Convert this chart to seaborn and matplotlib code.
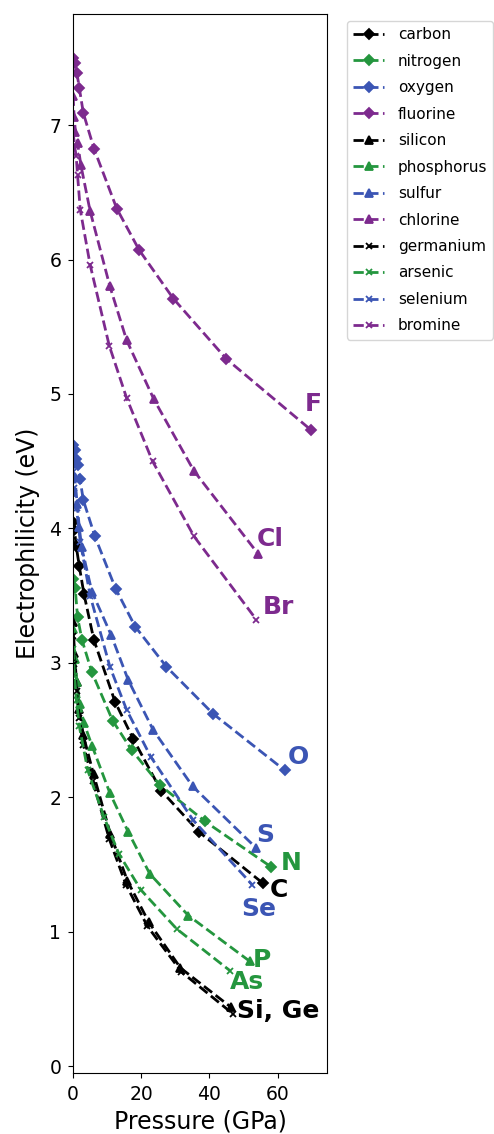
from matplotlib import pyplot as plt
import pandas as pd
import seaborn as sns
import numpy as np


##### Electrophilicity vs pressure
carbon_p = [0, 0.4, 0.9, 1.8, 3.2, 6.1, 12.3, 17.7, 25.8, 37.0, 55.7]
carbon_e = [4.05, 3.99, 3.87, 3.72, 3.51, 3.17, 2.71, 2.43, 2.05, 1.74, 1.36]

nitrogen_p = [0, 0.6, 1.3, 2.6, 5.5, 11.6, 17.2, 25.5, 38.7, 58.2]
nitrogen_e = [3.62, 3.56, 3.34, 3.17, 2.93, 2.57, 2.35, 2.09, 1.82, 1.48]

oxygen_p = [0, 0.5, 0.9, 1.3, 2.0, 3.0, 6.4, 12.5, 18.2, 27.4, 41.1, 62.1]
oxygen_e = [4.62, 4.58, 4.52, 4.47, 4.37, 4.21, 3.94, 3.55, 3.27, 2.97, 2.62, 2.20]

fluorine_p = [0, 0.5, 1.1, 1.8, 3.0, 6.2, 12.8, 19.4, 29.4, 45.0, 69.9]
fluorine_e = [7.50, 7.46, 7.39, 7.28, 7.09, 6.82, 6.38, 6.07, 5.71, 5.26, 4.73]

silicon_p = [0, 0.4, 1.0, 1.8, 3.0, 6.0, 10.9, 15.9, 22.2, 31.5, 46.2]
silicon_e = [3.30, 3.07, 2.86, 2.66, 2.46, 2.17, 1.73, 1.38, 1.07, 0.73, 0.44]

phosphorus_p = [0, 0.5, 1.1, 2.0, 3.2, 5.6, 10.8, 16.2, 22.5, 33.8, 51.8]
phosphorus_e = [3.25, 3.03, 2.86, 2.69, 2.55, 2.38, 2.03, 1.74, 1.43, 1.12, 0.78]

sulfur_p = [0, 0.5, 1.2, 1.8, 2.5, 5.5, 11.1, 16.2, 23.5, 35.1, 53.8]
sulfur_e = [4.52, 4.38, 4.18, 4.01, 3.86, 3.53, 3.21, 2.87, 2.50, 2.08, 1.62]

chlorine_p = [0, 0.3, 0.7, 1.3, 2.3, 5.0, 10.8, 15.7, 23.7, 35.4, 54.3]
chlorine_e = [7.22, 7.06, 6.95, 6.87, 6.70, 6.36, 5.80, 5.40, 4.96, 4.43, 3.81]

germanium_p = [0, 0.4, 1.0, 1.8, 3.0, 5.8, 10.6, 15.5, 21.8, 31.8, 46.8]
germanium_e = [3.20, 2.99, 2.79, 2.59, 2.39, 2.12, 1.69, 1.35, 1.04, 0.70, 0.39]

arsenic_p = [0, 0.4, 1.0, 1.8, 4.3, 9.1, 13.4, 19.9, 30.4, 46.0]
arsenic_e = [3.10, 2.90, 2.72, 2.53, 2.20, 1.85, 1.58, 1.31, 1.02, 0.71]

selenium_p = [0, 0.4, 1.0, 2.1, 5.0, 10.8, 15.7, 22.8, 35.2, 52.5]
selenium_e = [4.42, 4.30, 4.15, 3.90, 3.50, 2.97, 2.65, 2.30, 1.83, 1.35]

bromine_p = [0, 0.4, 0.9, 1.3, 2.1, 5.0, 10.6, 15.7, 23.3, 35.5, 53.8]
bromine_e = [6.95, 6.85, 6.77, 6.63, 6.37, 5.96, 5.36, 4.97, 4.50, 3.94, 3.32]

names = ['carbon', 'nitrogen', 'oxygen', 'fluorine',
         'silicon', 'phosphorus', 'sulfur', 'chlorine',
         'germanium', 'arsenic', 'selenium', 'bromine']
pressures = [carbon_p, nitrogen_p, oxygen_p, fluorine_p,
             silicon_p, phosphorus_p, sulfur_p, chlorine_p,
             germanium_p, arsenic_p, selenium_p, bromine_p]
electro = [carbon_e, nitrogen_e, oxygen_e, fluorine_e,
           silicon_e, phosphorus_e, sulfur_e, chlorine_e,
           germanium_e, arsenic_e, selenium_e, bromine_e]

## element labels written next to the curve ends
label_text = ['F', 'Cl', 'Br', 'O', 'S', 'N', 'C', 'Se', 'P', 'As', 'Si, Ge']
label_p = [67.9, 54.0, 55.6, 63.1, 53.7, 60.9, 57.6, 49.2, 52.7, 46.0, 48.1]
label_e = [4.87, 3.87, 3.36, 2.25, 1.67, 1.46, 1.26, 1.12, 0.74, 0.57, 0.36]

## colour per group (column of periodic table), marker per row
group_colors = ['black', '#24963e', '#3b55b4', '#7d2a8e']
row_markers = ['D', '^', 'x']
label_colors = ['#7d2a8e', '#7d2a8e', '#7d2a8e', '#3b55b4', '#3b55b4', '#24963e',
                'black', '#3b55b4', '#24963e', '#24963e', 'black']


fig, ax = plt.subplots(figsize=(4.94, 11.34), dpi=100)
fig.subplots_adjust(left=0.148, right=0.662, top=0.988, bottom=0.054)

for i in range(len(names)):
    df = pd.DataFrame({'Pressure': pressures[i], 'Electrophilicity': electro[i]})
    mk = row_markers[i // 4]
    sns.lineplot(data=df, x='Pressure', y='Electrophilicity', ax=ax,
                 color=group_colors[i % 4], linestyle='--', linewidth=2,
                 marker=mk, markersize=5.5 if mk != 'x' else 4.5,
                 markeredgewidth=1.3, markeredgecolor=group_colors[i % 4],
                 label=names[i], sort=False)

for t, x, y, c in zip(label_text, label_p, label_e, label_colors):
    ax.text(x, y, t, color=c, fontsize=18, fontweight='bold', ha='left', va='baseline')

ax.set_xlim(0, 74.5)
ax.set_ylim(-0.05, 7.83)
ax.set_xticks([0, 20, 40, 60])
ax.set_yticks([0, 1, 2, 3, 4, 5, 6, 7])
ax.tick_params(labelsize=13.5, pad=5)
ax.set_xlabel('Pressure (GPa)', fontsize=17)
ax.set_ylabel('Electrophilicity (eV)', fontsize=17, labelpad=7)

ax.legend(bbox_to_anchor=(1.05, 1), loc='upper left', fontsize=11,
          labelspacing=0.75, handlelength=2.0, handletextpad=0.9)

plt.savefig('out.png', dpi=100)
